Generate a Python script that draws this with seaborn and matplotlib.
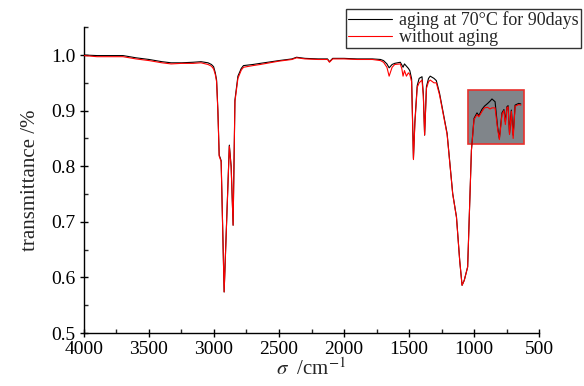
import matplotlib
matplotlib.use("Agg")
import matplotlib.pyplot as plt
import matplotlib.patches as patches
from matplotlib.ticker import MultipleLocator, FormatStrFormatter
import pandas as pd
import seaborn as sns

sns.set_style("ticks")
plt.rcParams["font.family"] = ["Liberation Serif", "DejaVu Serif"]
plt.rcParams["mathtext.fontset"] = "stix"

# wavenumber (cm^-1)
wavenumber = [4000, 3900, 3800, 3700, 3600, 3500, 3400, 3330, 3250, 3160, 3100, 3046,
              3020, 3003, 2990, 2980, 2970, 2960, 2952, 2945, 2922, 2900, 2882, 2868,
              2853, 2839, 2816, 2790, 2773, 2700, 2644, 2500, 2400, 2365, 2300, 2200,
              2127, 2112, 2087, 2000, 1900, 1782, 1720, 1696, 1670, 1653, 1630, 1610,
              1567, 1555, 1546, 1535, 1520, 1505, 1494, 1480, 1466, 1455, 1437, 1422,
              1400, 1390, 1380, 1366, 1350, 1337, 1308, 1290, 1265, 1207, 1164, 1135,
              1110, 1092, 1075, 1049, 1020, 1000, 977, 963, 940, 920, 895, 877,
              862, 838, 819, 805, 785, 770, 759, 747, 738, 727, 713, 699,
              684, 656, 640]

aged = [1.000, 0.999, 0.999, 0.999, 0.995, 0.992, 0.988, 0.986, 0.986, 0.987, 0.988, 0.986,
        0.983, 0.979, 0.968, 0.955, 0.900, 0.820, 0.815, 0.810, 0.574, 0.720, 0.838, 0.800,
        0.694, 0.919, 0.962, 0.976, 0.981, 0.983, 0.985, 0.990, 0.993, 0.996, 0.994, 0.993,
        0.993, 0.988, 0.994, 0.994, 0.993, 0.993, 0.992, 0.990, 0.984, 0.977, 0.983, 0.985,
        0.987, 0.982, 0.978, 0.984, 0.980, 0.976, 0.972, 0.957, 0.814, 0.880, 0.945, 0.958,
        0.961, 0.930, 0.856, 0.943, 0.958, 0.962, 0.958, 0.954, 0.931, 0.859, 0.751, 0.709,
        0.630, 0.586, 0.595, 0.619, 0.829, 0.886, 0.896, 0.891, 0.902, 0.908, 0.913, 0.917,
        0.921, 0.916, 0.871, 0.850, 0.896, 0.902, 0.880, 0.907, 0.909, 0.859, 0.901, 0.856,
        0.910, 0.913, 0.912]

unaged = [0.999, 0.997, 0.997, 0.997, 0.993, 0.990, 0.986, 0.984, 0.985, 0.985, 0.986, 0.983,
          0.980, 0.975, 0.965, 0.952, 0.898, 0.818, 0.813, 0.808, 0.574, 0.718, 0.836, 0.798,
          0.694, 0.916, 0.958, 0.973, 0.978, 0.981, 0.983, 0.989, 0.992, 0.995, 0.993, 0.992,
          0.992, 0.987, 0.993, 0.993, 0.992, 0.992, 0.990, 0.987, 0.978, 0.962, 0.978, 0.983,
          0.984, 0.975, 0.962, 0.972, 0.962, 0.968, 0.965, 0.952, 0.812, 0.876, 0.942, 0.950,
          0.955, 0.926, 0.856, 0.940, 0.952, 0.955, 0.950, 0.950, 0.928, 0.857, 0.750, 0.708,
          0.630, 0.586, 0.595, 0.619, 0.829, 0.884, 0.893, 0.889, 0.898, 0.905, 0.906, 0.903,
          0.905, 0.905, 0.868, 0.848, 0.893, 0.900, 0.875, 0.905, 0.907, 0.857, 0.899, 0.850,
          0.908, 0.911, 0.910]

labels = ["aging at 70°C for 90days", "without aging"]

df = pd.concat([
    pd.DataFrame({"wn": wavenumber, "T": aged, "sample": labels[0]}),
    pd.DataFrame({"wn": wavenumber, "T": unaged, "sample": labels[1]}),
])

fig = plt.figure(figsize=(5.84, 3.86), dpi=100)
ax = fig.add_axes([0.1438, 0.137, 0.923 - 0.1438, 0.9295 - 0.137])

# grey highlight box behind the fingerprint region
ax.add_patch(patches.Rectangle((615, 0.84), 1046 - 615, 0.937 - 0.84,
                               facecolor="#80858a", edgecolor="#e8302c",
                               linewidth=1.2, zorder=1))

sns.lineplot(data=df, x="wn", y="T", hue="sample", palette=["black", "red"],
             sort=False, estimator=None, linewidth=0.8, ax=ax, zorder=3)

ax.set_xlim(4000, 500)
ax.set_ylim(0.5, 1.05)
ax.xaxis.set_major_locator(MultipleLocator(500))
ax.xaxis.set_minor_locator(MultipleLocator(250))
ax.yaxis.set_major_locator(MultipleLocator(0.1))
ax.yaxis.set_minor_locator(MultipleLocator(0.05))
ax.yaxis.set_major_formatter(FormatStrFormatter("%.1f"))
ax.tick_params(which="major", direction="inout", length=6, width=1,
               labelsize=14, colors="black")
ax.tick_params(axis="x", which="major", pad=3)
ax.tick_params(axis="y", which="major", pad=3)
ax.tick_params(which="minor", direction="in", length=3, width=1)
for s in ["left", "bottom"]:
    ax.spines[s].set_linewidth(1)
    ax.spines[s].set_color("black")
sns.despine(ax=ax)

ax.set_xlabel(r"$\sigma$  /cm$^{-1}$", fontsize=15, labelpad=0)
ax.set_ylabel("transmittance /%", fontsize=15, labelpad=8)

handles, _ = ax.get_legend_handles_labels()
ax.get_legend().remove()
leg = fig.legend(handles, labels, loc="upper left",
                 bbox_to_anchor=(346 / 584, 1 - 9 / 386), fontsize=13,
                 frameon=True, fancybox=False, edgecolor="black",
                 borderpad=0.12, labelspacing=0.0, handlelength=2.4,
                 handletextpad=0.4, borderaxespad=0)
leg.get_frame().set_linewidth(1)

fig.savefig("out.png", dpi=100)
plt.close(fig)
